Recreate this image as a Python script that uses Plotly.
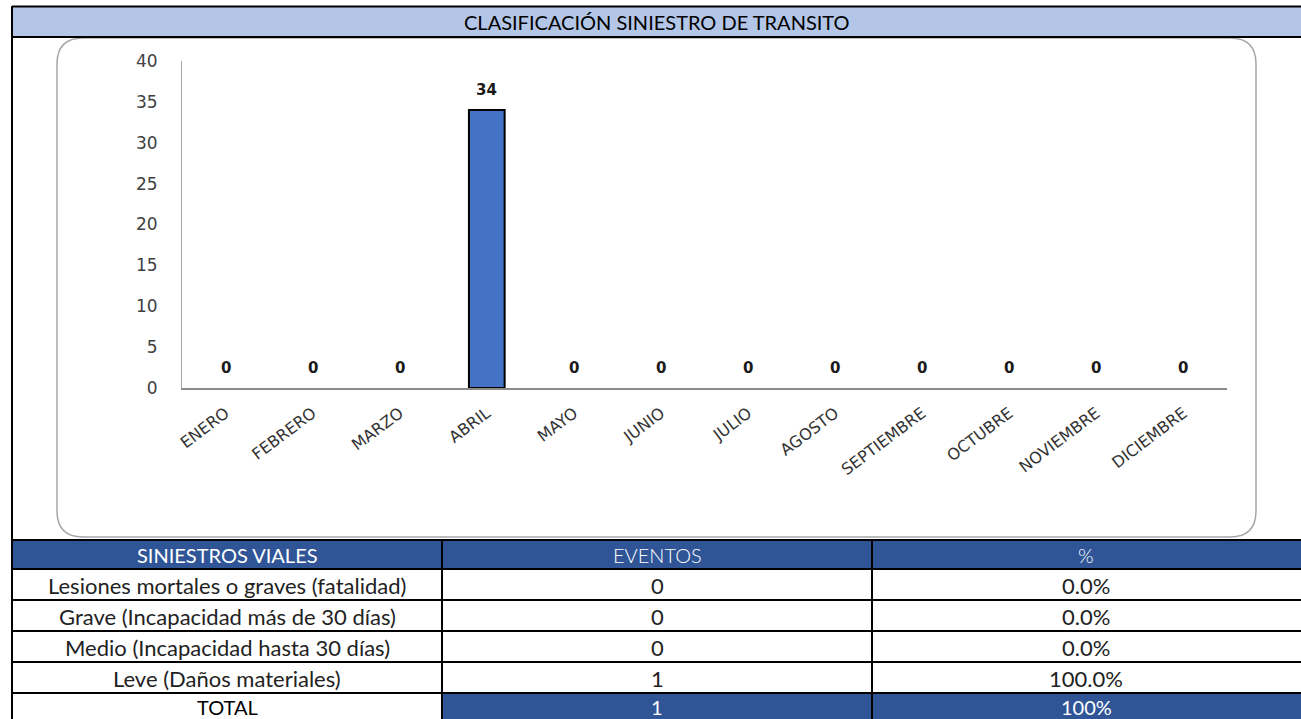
import plotly.graph_objects as go

W, H = 1301, 719

# ---------------- data ----------------
meses = ["ENERO", "FEBRERO", "MARZO", "ABRIL", "MAYO", "JUNIO", "JULIO",
         "AGOSTO", "SEPTIEMBRE", "OCTUBRE", "NOVIEMBRE", "DICIEMBRE"]
siniestros = [0, 0, 0, 34, 0, 0, 0, 0, 0, 0, 0, 0]
y_ticks = [0, 5, 10, 15, 20, 25, 30, 35, 40]

titulo = "CLASIFICACIÓN SINIESTRO DE TRANSITO"
tabla_header = ["SINIESTROS VIALES", "EVENTOS", "%"]
tipos = ["Lesiones mortales o graves (fatalidad)",
         "Grave (Incapacidad más de 30 días)",
         "Medio (Incapacidad hasta 30 días)",
         "Leve (Daños materiales)"]
eventos = [0, 0, 0, 1]
porcentajes = ["0.0%", "0.0%", "0.0%", "100.0%"]
total_label = "TOTAL"
total_eventos = 1
total_pct = "100%"

# ---------------- helpers ----------------
def px(x):
    return x / W

def py(y):
    return 1 - y / H

BLUE_DARK = "#2F5597"
BLUE_LIGHT = "#B4C6E7"
TABLE_FONT = "Lato"

fig = go.Figure()
fig.add_trace(go.Bar(
    x=meses, y=siniestros,
    marker=dict(color="#4472C4",
                line=dict(color="#000000", width=[2 if v > 0 else 0 for v in siniestros])),
    width=0.41, hoverinfo="x+y",
))

shapes = []
annotations = []

# header band
shapes.append(dict(type="rect", xref="paper", yref="paper",
                   x0=px(12), x1=1, y0=py(37), y1=py(6),
                   fillcolor=BLUE_LIGHT, line=dict(width=0), layer="below"))
for yy in (6.5, 37):
    shapes.append(dict(type="line", xref="paper", yref="paper",
                       x0=px(12), x1=1, y0=py(yy), y1=py(yy),
                       line=dict(color="#000000", width=2)))
annotations.append(dict(xref="paper", yref="paper", x=px(657), y=py(22),
                        text=titulo, showarrow=False, xanchor="center", yanchor="middle",
                        font=dict(family=TABLE_FONT, size=20, color="#000000")))

# rounded chart frame
L, R, T, B, r = 57, 1256, 38, 537, 26
path = (f"M {px(L + r)} {py(T)} L {px(R - r)} {py(T)} "
        f"Q {px(R)} {py(T)} {px(R)} {py(T + r)} "
        f"L {px(R)} {py(B - r)} Q {px(R)} {py(B)} {px(R - r)} {py(B)} "
        f"L {px(L + r)} {py(B)} Q {px(L)} {py(B)} {px(L)} {py(B - r)} "
        f"L {px(L)} {py(T + r)} Q {px(L)} {py(T)} {px(L + r)} {py(T)} Z")
shapes.append(dict(type="path", xref="paper", yref="paper", path=path,
                   line=dict(color="#A6A6A6", width=1.5), layer="below"))

# table
row_edges = [540, 569, 600, 631, 662, 693, 724]
col_edges = [12, 442, 872, W]
shapes.append(dict(type="rect", xref="paper", yref="paper",
                   x0=px(12), x1=1, y0=py(569), y1=py(540),
                   fillcolor=BLUE_DARK, line=dict(width=0), layer="below"))
shapes.append(dict(type="rect", xref="paper", yref="paper",
                   x0=px(442), x1=1, y0=0, y1=py(693),
                   fillcolor=BLUE_DARK, line=dict(width=0), layer="below"))
for yy in row_edges[:-1]:
    shapes.append(dict(type="line", xref="paper", yref="paper",
                       x0=px(12), x1=1, y0=py(yy), y1=py(yy),
                       line=dict(color="#000000", width=2)))
for xx in col_edges[1:-1]:
    shapes.append(dict(type="line", xref="paper", yref="paper",
                       x0=px(xx), x1=px(xx), y0=0, y1=py(540),
                       line=dict(color="#000000", width=2)))
shapes.append(dict(type="line", xref="paper", yref="paper",
                   x0=px(12), x1=px(12), y0=0, y1=py(6),
                   line=dict(color="#000000", width=2)))

col_centers = [227, 657, 1086]
row_centers = [555, 585, 616, 647, 678, 707]

def cell(text, ci, ri, color="#222222", weight=400, size=22):
    annotations.append(dict(xref="paper", yref="paper", x=px(col_centers[ci]), y=py(row_centers[ri]),
                            text=str(text), showarrow=False, xanchor="center", yanchor="middle",
                            font=dict(family=TABLE_FONT, size=size, color=color, weight=weight)))

cell(tabla_header[0], 0, 0, "#FFFFFF", 400, 20)
cell(tabla_header[1], 1, 0, "#FFFFFF", 300, 20)
cell(tabla_header[2], 2, 0, "#FFFFFF", 300, 20)
for i, (t, e, p) in enumerate(zip(tipos, eventos, porcentajes)):
    cell(t, 0, i + 1)
    cell(e, 1, i + 1)
    cell(p, 2, i + 1)
cell(total_label, 0, 5, "#000000", 400, 20)
cell(total_eventos, 1, 5, "#FFFFFF", 400, 20)
cell(total_pct, 2, 5, "#FFFFFF", 400, 20)

# data labels
for m, v in zip(meses, siniestros):
    annotations.append(dict(x=m, y=v, xref="x", yref="y", text=f"<b>{v}</b>",
                            showarrow=False, yshift=20, yanchor="middle",
                            font=dict(family="DejaVu Sans", size=15, color="#1A1A1A")))

fig.update_layout(
    width=W, height=H,
    margin=dict(l=0, r=0, t=0, b=0, pad=0, autoexpand=False),
    paper_bgcolor="#FFFFFF", plot_bgcolor="rgba(0,0,0,0)",
    showlegend=False,
    shapes=shapes, annotations=annotations,
    xaxis=dict(domain=[px(182), px(1227)], showline=True, linecolor="#8C8C8C", linewidth=1.5,
               tickangle=-37, tickfont=dict(family="DejaVu Sans", size=16, color="#333333"),
               ticks="", ticklabelstandoff=8, showgrid=False, zeroline=False, fixedrange=True,
               automargin=False),
    yaxis=dict(domain=[py(388), py(61)], range=[0, 40], tickvals=y_ticks,
               showline=True, linecolor="#A6A6A6", linewidth=1,
               tickfont=dict(family="DejaVu Sans", size=17, color="#404040"),
               ticks="", ticklabelstandoff=20, showgrid=False, zeroline=False, fixedrange=True,
               automargin=False),
)

fig.write_html("out.html", config={"displayModeBar": False},
               post_script="document.body.style.margin='0px';document.body.style.overflow='hidden';")
